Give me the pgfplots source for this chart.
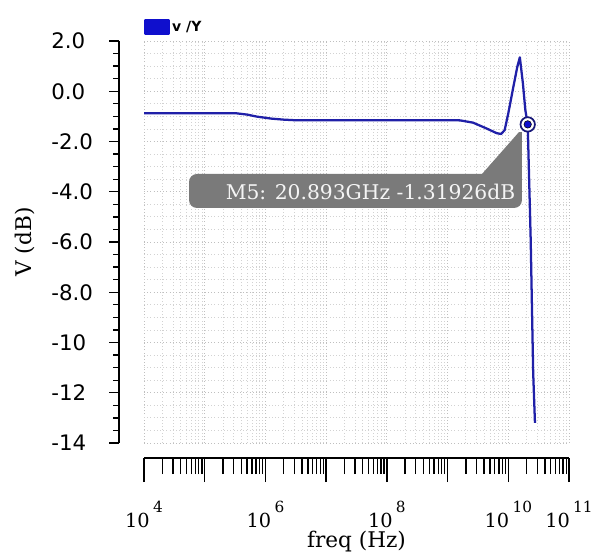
\documentclass[border=0pt]{standalone}
\usepackage{pgfplots}
\pgfplotsset{compat=1.18}
\usepackage{fontspec}
\setmainfont{DejaVu Serif}
\newfontfamily\sansf{DejaVu Sans}
\definecolor{curve}{RGB}{32,32,168}
\definecolor{legblue}{RGB}{15,15,205}
\definecolor{markdark}{RGB}{25,25,120}
\definecolor{boxgray}{RGB}{122,122,122}
\newcommand{\xtl}[1]{\mbox{\fontsize{14.5}{15}\selectfont 10\hspace{2.5pt}\raisebox{11pt}{\fontsize{11.5}{12}\selectfont #1}}}
\begin{document}
\begin{tikzpicture}
\begin{axis}[
  name=ax,
  scale only axis,
  width=318.75pt, height=301.5pt,
  xmode=log, log basis x=10,
  xmin=1e4, xmax=1e11, ymin=-14, ymax=2,
  axis lines*=left,
  axis x line shift=11.25pt,
  axis y line shift=18.75pt,
  axis line style={line width=1pt},
  tick align=outside,
  xtick={1e4,1e5,1e6,1e7,1e8,1e9,1e10,1e11},
  xticklabels={\xtl{4},,\xtl{6},,\xtl{8},,\xtl{10},\xtl{11}},
  minor xtick={2e4,3e4,4e4,5e4,6e4,7e4,8e4,9e4,
               2e5,3e5,4e5,5e5,6e5,7e5,8e5,9e5,
               2e6,3e6,4e6,5e6,6e6,7e6,8e6,9e6,
               2e7,3e7,4e7,5e7,6e7,7e7,8e7,9e7,
               2e8,3e8,4e8,5e8,6e8,7e8,8e8,9e8,
               2e9,3e9,4e9,5e9,6e9,7e9,8e9,9e9,
               2e10,3e10,4e10,5e10,6e10,7e10,8e10,9e10},
  ytick={-14,-12,-10,-8,-6,-4,-2,0,2},
  yticklabels={-14,-12,-10,-8.0,-6.0,-4.0,-2.0,0.0,2.0},
  minor y tick num=3,
  xtick style={/pgfplots/major tick length=18pt,/pgfplots/minor tick length=12pt,line width=1pt,black},
  ytick style={/pgfplots/major tick length=7.5pt,/pgfplots/minor tick length=4.5pt,line width=1pt,black},
  xticklabel style={anchor=base, yshift=-47.5pt, font=\fontsize{14.5}{15}\selectfont},
  yticklabel style={anchor=west, xshift=-50pt, font=\sansf\fontsize{16}{17}\selectfont},
  grid=both,
  major grid style={draw=gray!50, line width=0.6pt, dash pattern=on 0.6pt off 1.8pt},
  minor grid style={draw=gray!35, line width=0.6pt, dash pattern=on 0.6pt off 1.8pt},
  xlabel={freq (Hz)},
  ylabel={V (dB)},
  every axis x label/.style={at={([yshift=-74.25pt]rel axis cs:0.5,0)}, anchor=center, font=\fontsize{16.2}{17}\selectfont},
  every axis y label/.style={at={([xshift=-89.25pt]rel axis cs:0,0.5)}, rotate=90, anchor=center, font=\fontsize{16.2}{17}\selectfont},
  legend style={at={(rel axis cs:0,1)}, anchor=south west, yshift=3.75pt, draw=none, fill=none,
    inner sep=0pt, font=\sansf\bfseries\fontsize{10.5}{11}\selectfont},
  legend cell align=left,
]
\addplot[curve, line width=1.7pt, line join=round,
  legend image code/.code={\fill[legblue] (0pt,-5.25pt) rectangle (17.25pt,5.25pt);}]
  coordinates {
  (1e4,-0.88) (1e5,-0.88) (3.39e5,-0.88) (5.01e5,-0.93) (7.24e5,-1.01)
  (1.26e6,-1.09) (2.0e6,-1.13) (2.88e6,-1.15) (1e7,-1.15) (1e8,-1.15)
  (1e9,-1.15) (1.62e9,-1.16) (2.63e9,-1.25) (4.37e9,-1.48) (6.46e9,-1.67)
  (7.59e9,-1.70) (8.71e9,-1.55) (1e10,-0.88) (1.2e10,0.12) (1.41e10,0.98)
  (1.55e10,1.35) (1.74e10,0.32) (1.91e10,-0.75) (2.0893e10,-1.31926)
  (2.34e10,-5.92) (2.57e10,-11.2) (2.75e10,-13.2)
  };
\addlegendentry{v /Y}
\fill[boxgray, rounded corners=6pt] (rel axis cs:0.1059,0.5846) rectangle (rel axis cs:0.8894,0.6692);
\fill[boxgray] (rel axis cs:0.7953,0.6692) -- (rel axis cs:0.8824,0.7736) -- (rel axis cs:0.8894,0.7736) -- (rel axis cs:0.8894,0.64) -- (rel axis cs:0.7953,0.64) -- cycle;
\node[text=white!92!gray, font=\fontsize{15.2}{16}\selectfont] at (rel axis cs:0.5330,0.6256) {M5: 20.893GHz -1.31926dB};
\addplot[forget plot, only marks, mark=*, mark size=5.4pt, mark options={draw=markdark, fill=white, line width=1.3pt}] coordinates {(2.0893e10,-1.31926)};
\addplot[forget plot, only marks, mark=*, mark size=2.8pt, mark options={draw=none, fill=legblue}] coordinates {(2.0893e10,-1.31926)};
\coordinate (sw) at (rel axis cs:0,0);
\end{axis}
\pgfresetboundingbox
\useasboundingbox (sw) ++(-108pt,-82.5pt) rectangle ++(444pt,414.75pt);
\end{tikzpicture}
\end{document}
